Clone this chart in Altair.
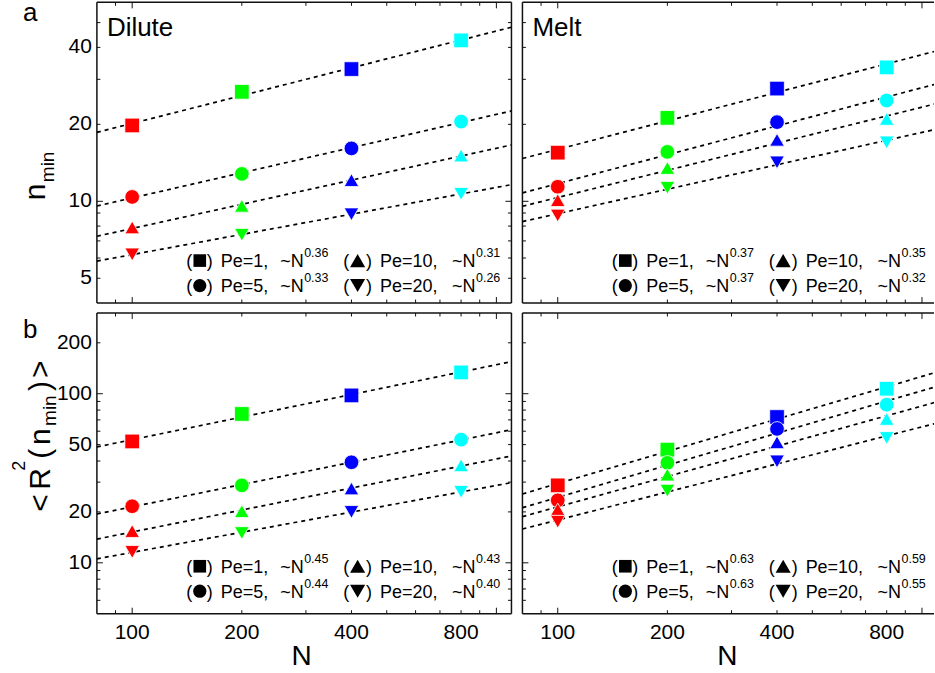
import altair as alt
import pandas as pd

FONT = "Liberation Sans"
INK = "#111111"

# ---------------- data ----------------
N_values = [100, 200, 400, 800]
N_colors = ["#ff0000", "#00ff00", "#0000ff", "#00ffff"]
Pe_values = ["1", "5", "10", "20"]
Pe_shapes = ["square", "circle", "triangle-up", "triangle-down"]

dilute_nmin_pe1 = [19.8, 26.8, 32.9, 42.6]
dilute_nmin_pe5 = [10.4, 12.8, 16.1, 20.5]
dilute_nmin_pe10 = [7.9, 9.6, 12.1, 15.1]
dilute_nmin_pe20 = [6.2, 7.4, 8.9, 10.7]
dilute_nmin_exp = ["0.36", "0.33", "0.31", "0.26"]

melt_nmin_pe1 = [15.5, 21.2, 27.6, 33.4]
melt_nmin_pe5 = [11.4, 15.6, 20.4, 24.8]
melt_nmin_pe10 = [10.1, 13.5, 17.4, 21.0]
melt_nmin_pe20 = [8.8, 11.3, 14.2, 17.0]
melt_nmin_exp = ["0.37", "0.37", "0.35", "0.32"]

dilute_r2_pe1 = [52.2, 75.9, 97.7, 133.6]
dilute_r2_pe5 = [21.6, 28.7, 39.3, 53.5]
dilute_r2_pe10 = [15.4, 20.2, 27.5, 37.7]
dilute_r2_pe20 = [11.6, 15.0, 20.0, 26.3]
dilute_r2_exp = ["0.45", "0.44", "0.43", "0.40"]

melt_r2_pe1 = [28.7, 46.7, 72.8, 107.0]
melt_r2_pe5 = [23.4, 39.0, 61.9, 86.1]
melt_r2_pe10 = [20.7, 33.2, 51.6, 70.9]
melt_r2_pe20 = [17.5, 26.7, 39.8, 54.7]
melt_r2_exp = ["0.63", "0.63", "0.59", "0.55"]

x_tick_labels = [100, 200, 400, 800]
x_minor_ticks = [90, 200, 300, 400, 500, 600, 700, 800, 900]
x_major_ticks = [100, 1000]
top_y_labels = [5, 10, 20, 40]
top_y_minor = [5, 6, 7, 8, 9, 20, 30, 40, 50]
top_y_major = [10]
bot_y_labels = [10, 20, 50, 100, 200]
bot_y_minor = [6, 7, 8, 9, 20, 30, 40, 50, 60, 70, 80, 90, 200]
bot_y_major = [10, 100]

# ---------------- helpers ----------------
dummy = pd.DataFrame({"k": [0]})


def build_df(series):
    rows = []
    for pe, vals in zip(Pe_values, series):
        for n, v in zip(N_values, vals):
            rows.append({"N": n, "Nc": str(n), "Pe": pe, "val": v})
    return pd.DataFrame(rows)


def text(s, x, y, size, align="left", angle=None):
    kw = dict(text=s, font=FONT, fontSize=size, color="black", align=align,
              baseline="alphabetic")
    if angle is not None:
        kw["angle"] = angle
    return alt.Chart(dummy).mark_text(**kw).encode(x=alt.value(x), y=alt.value(y))


def symbol(shape, x, y, size):
    return alt.Chart(dummy).mark_point(
        shape=shape, filled=True, color="black", opacity=1, size=size, strokeWidth=0
    ).encode(x=alt.value(x), y=alt.value(y))


def frame_rule(x1, x2, y1, y2, opacity=1.0):
    return alt.Chart(dummy).mark_rule(color=INK, strokeWidth=1.5, strokeOpacity=opacity).encode(
        x=alt.value(x1), x2=alt.value(x2), y=alt.value(y1), y2=alt.value(y2)
    )


LEG_COLS = [
    dict(lp=89.5, sym=103, rp=110, lab=124, tn=183.5, sup=207.5),
    dict(lp=246.5, sym=261, rp=269.5, lab=283.5, tn=355.5, sup=379.5),
]
LEG_SLOTS = [(0, 0), (0, 1), (1, 0), (1, 1)]
LEG_SYM_SIZE = [160, 175, 230, 230]


def panel(series, exps, ydom, yminor, ymajor, ylabels, W, H, xdom,
          show_x, show_y, right_edge, tag, leg_base, extra):
    df = build_df(series)
    xs = alt.Scale(type="log", domain=xdom, nice=False)
    ys = alt.Scale(type="log", domain=ydom, nice=False)
    layers = []

    # inward ticks (minor and decade)
    for vals, L in ((x_minor_ticks, 3.5), (x_major_ticks, 6)):
        d = pd.DataFrame({"t": vals})
        for y1, y2 in ((H - L, H), (0, L)):
            layers.append(alt.Chart(d).mark_rule(color=INK, strokeWidth=1).encode(
                x=alt.X("t:Q", scale=xs, axis=None), y=alt.value(y1), y2=alt.value(y2)))
    for vals, L in ((yminor, 3.5), (ymajor, 6)):
        d = pd.DataFrame({"t": vals})
        sides = [(0, L)] + ([(W - L, W)] if right_edge else [])
        for x1, x2 in sides:
            layers.append(alt.Chart(d).mark_rule(color=INK, strokeWidth=1).encode(
                y=alt.Y("t:Q", scale=ys, axis=None), x=alt.value(x1), x2=alt.value(x2)))

    # tick labels placed through the scales
    if show_x:
        d = pd.DataFrame({"t": x_tick_labels})
        layers.append(alt.Chart(d).mark_text(font=FONT, fontSize=21, color="black",
                                             align="center", baseline="alphabetic").encode(
            x=alt.X("t:Q", scale=xs, axis=None), y=alt.value(H + 25), text="t:Q"))
    if show_y:
        d = pd.DataFrame({"t": ylabels})
        layers.append(alt.Chart(d).mark_text(font=FONT, fontSize=21, color="black",
                                             align="right", baseline="middle").encode(
            y=alt.Y("t:Q", scale=ys, axis=None), x=alt.value(-5), text="t:Q"))

    # frame
    layers.append(frame_rule(0, W, 0, 0))
    layers.append(frame_rule(0, W, H, H))
    layers.append(frame_rule(0, 0, 0, H))
    if right_edge:
        layers.append(frame_rule(W, W, 0, H))

    # power-law fits
    layers.append(
        alt.Chart(df).transform_regression(
            "N", "val", groupby=["Pe"], method="pow", extent=[80, 1100]
        ).mark_line(color="black", strokeDash=[4, 4], strokeWidth=1.7, clip=True).encode(
            x=alt.X("N:Q", scale=xs, axis=None),
            y=alt.Y("val:Q", scale=ys, axis=None),
            detail="Pe:N",
        )
    )

    layers.append(
        alt.Chart(df).mark_point(filled=True, size=215, opacity=1, stroke="white",
                                 strokeWidth=0.8).encode(
            x=alt.X("N:Q", scale=xs, axis=None),
            y=alt.Y("val:Q", scale=ys, axis=None),
            shape=alt.Shape("Pe:N", scale=alt.Scale(domain=Pe_values, range=Pe_shapes),
                            legend=None),
            color=alt.Color("Nc:N", scale=alt.Scale(domain=[str(n) for n in N_values],
                                                    range=N_colors), legend=None),
        )
    )

    # in-panel legend
    for i, (pe, ex) in enumerate(zip(Pe_values, exps)):
        c, r = LEG_SLOTS[i]
        col = LEG_COLS[c]
        base = leg_base[r]
        layers.append(text("(", col["lp"], base, 18))
        layers.append(symbol(Pe_shapes[i], col["sym"], base - 6.5, LEG_SYM_SIZE[i]))
        layers.append(text(")", col["rp"], base, 18))
        layers.append(text("Pe=" + pe + ",", col["lab"], base, 18))
        layers.append(text("~N", col["tn"], base, 18))
        layers.append(text(ex, col["sup"], base - 10, 12.5))

    if tag:
        layers.append(text(tag, 10, 34, 26))
    layers.extend(extra)
    return alt.layer(*layers).properties(width=W, height=H)


H = 301
WL = 415
WR = 412
XL = [80, 1100]
XR = [80, 1079]

anchor = alt.Chart(dummy).mark_rule(strokeOpacity=0, color="white").encode(
    x=alt.value(-97), x2=alt.value(0), y=alt.value(-2))

extra_a = [
    anchor,
    text("a", -74, 19, 26),
    text("n", -52, 198, 30, angle=270),
    text("min", -43, 180, 19, angle=270),
]
extra_b = [
    text("b", -74, 25, 26),
    text("<", -47, 199, 30, angle=270),
    text("R", -47, 177, 30, angle=270),
    text("2", -72, 158, 18, angle=270),
    text("(", -47, 146, 30, angle=270),
    text("n", -47, 132, 30, angle=270),
    text("min", -41, 113, 19, angle=270),
    text(")", -47, 78, 30, angle=270),
    text(">", -47, 65, 30, angle=270),
    text("N", 205, 352, 28, align="center"),
]
extra_b2 = [text("N", 205, 352, 28, align="center")]

pa_dil = panel([dilute_nmin_pe1, dilute_nmin_pe5, dilute_nmin_pe10, dilute_nmin_pe20],
               dilute_nmin_exp, [4, 60], top_y_minor, top_y_major, top_y_labels,
               WL, H, XL, False, True, True, "Dilute", (265, 290), extra_a)
pa_melt = panel([melt_nmin_pe1, melt_nmin_pe5, melt_nmin_pe10, melt_nmin_pe20],
                melt_nmin_exp, [4, 60], top_y_minor, top_y_major, top_y_labels,
                WR, H, XR, False, False, False, "Melt", (265, 290), [])
pb_dil = panel([dilute_r2_pe1, dilute_r2_pe5, dilute_r2_pe10, dilute_r2_pe20],
               dilute_r2_exp, [5, 300], bot_y_minor, bot_y_major, bot_y_labels,
               WL, H, XL, True, True, True, "", (260, 285), extra_b)
pb_melt = panel([melt_r2_pe1, melt_r2_pe5, melt_r2_pe10, melt_r2_pe20],
                melt_r2_exp, [5, 300], bot_y_minor, bot_y_major, bot_y_labels,
                WR, H, XR, True, False, False, "", (260, 285), extra_b2)

chart = alt.concat(
    pa_dil, pa_melt, pb_dil, pb_melt,
    columns=2, spacing={"row": 10, "column": 11}, bounds="flush",
).properties(padding=0).configure_view(stroke=None)

chart.save("out.html", embed_options={"renderer": "svg", "actions": False})
